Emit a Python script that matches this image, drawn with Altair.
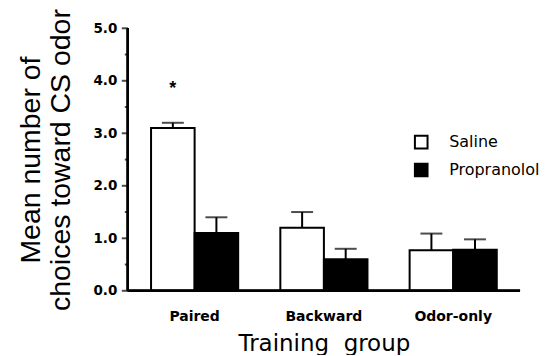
import altair as alt
import pandas as pd

groups = ["Paired", "Backward", "Odor-only"]
treatments = ["Saline", "Propranolol"]
saline_mean = [3.1, 1.2, 0.77]
saline_err = [0.1, 0.3, 0.32]
prop_mean = [1.1, 0.6, 0.78]
prop_err = [0.3, 0.2, 0.2]
star_group = ["Paired"]
star_treat = ["Saline"]
star_y = [3.85]
y_major = [0, 1, 2, 3, 4, 5]
y_minor = [0.5, 1.5, 2.5, 3.5, 4.5]

rows = []
for i, g in enumerate(groups):
    rows.append({"group": g, "treat": "Saline", "mean": saline_mean[i], "top": saline_mean[i] + saline_err[i]})
    rows.append({"group": g, "treat": "Propranolol", "mean": prop_mean[i], "top": prop_mean[i] + prop_err[i]})
df = pd.DataFrame(rows)
stars = pd.DataFrame({"group": star_group, "treat": star_treat, "y": star_y, "t": ["*"] * len(star_y)})
major_df = pd.DataFrame({"v": y_major})
minor_df = pd.DataFrame({"v": y_minor})

WIDE = "DejaVu Sans"
NARROW = "Liberation Sans"
W, H = 393, 263

x = alt.X("group:N", sort=groups,
          scale=alt.Scale(paddingInner=0.326, paddingOuter=0.18),
          axis=alt.Axis(title="Training\u00a0\u00a0group", labelAngle=0, ticks=False, domain=False,
                        labelFont=WIDE, labelFontSize=14, labelFontWeight="bold", labelPadding=19,
                        labelColor="black", titleColor="black",
                        titleFont=WIDE, titleFontSize=23, titleFontWeight="normal", titlePadding=9))
xo = alt.XOffset("treat:N", sort=treatments, scale=alt.Scale(paddingInner=0, paddingOuter=0))
yscale = alt.Scale(domain=[0, 5], nice=False)

bars = alt.Chart(df).mark_bar(stroke="black", strokeWidth=2).encode(
    x=x, xOffset=xo,
    y=alt.Y("mean:Q", scale=yscale,
            axis=alt.Axis(title=["Mean number of", "choices toward CS odor"],
                          values=y_major, format=".1f",
                          domain=False, ticks=True, tickOpacity=0, tickSize=6,
                          labelFont=WIDE, labelFontSize=13.5, labelFontWeight="bold",
                          labelColor="black", titleColor="black",
                          labelPadding=5, grid=False,
                          titleFont=NARROW, titleFontSize=28.5, titleFontWeight="normal",
                          titlePadding=17, titleLineHeight=31)),
    fill=alt.Fill("treat:N", sort=treatments,
                  scale=alt.Scale(domain=treatments, range=["white", "black"]),
                  legend=alt.Legend(title=None, orient="none", legendX=286, legendY=106,
                                    symbolType="square", symbolSize=160, symbolStrokeColor="black",
                                    symbolStrokeWidth=2, labelFontSize=16, labelColor="black",
                                    labelFont=WIDE, rowPadding=6, labelOffset=20)),
)

rules = alt.Chart(df).mark_rule(color="black", strokeWidth=2).encode(
    x=x, xOffset=xo, y=alt.Y("mean:Q", scale=yscale), y2="top:Q")
caps = alt.Chart(df).mark_tick(color="black", thickness=2, size=22, orient="horizontal").encode(
    x=x, xOffset=xo, y=alt.Y("top:Q", scale=yscale))
star = alt.Chart(stars).mark_text(fontSize=18, font=NARROW, fontWeight="bold", baseline="middle").encode(
    x=x, xOffset=xo, y=alt.Y("y:Q", scale=yscale), text="t:N")

# axis lines and tick marks
y_line = alt.Chart(major_df).mark_rule(color="black", strokeWidth=2).encode(
    x=alt.value(0), y=alt.value(0), y2=alt.value(H))
x_line = alt.Chart(major_df).mark_rule(color="black", strokeWidth=2).encode(
    y=alt.value(H), x=alt.value(0), x2=alt.value(W))
major_ticks = alt.Chart(major_df).mark_tick(color="black", thickness=2, size=6, orient="horizontal").encode(
    x=alt.value(-3), y=alt.Y("v:Q", scale=yscale))
minor_ticks = alt.Chart(minor_df).mark_tick(color="black", thickness=2, size=3, orient="horizontal").encode(
    x=alt.value(-1.5), y=alt.Y("v:Q", scale=yscale))

chart = alt.layer(bars, rules, caps, star, y_line, x_line, major_ticks, minor_ticks).properties(
    width=W, height=H,
    autosize=alt.AutoSizeParams(type="none"),
    padding={"left": 120, "top": 20, "right": 20, "bottom": 64},
).configure_view(stroke=None)

chart.save("out.html", embed_options={"renderer": "svg", "actions": False})
